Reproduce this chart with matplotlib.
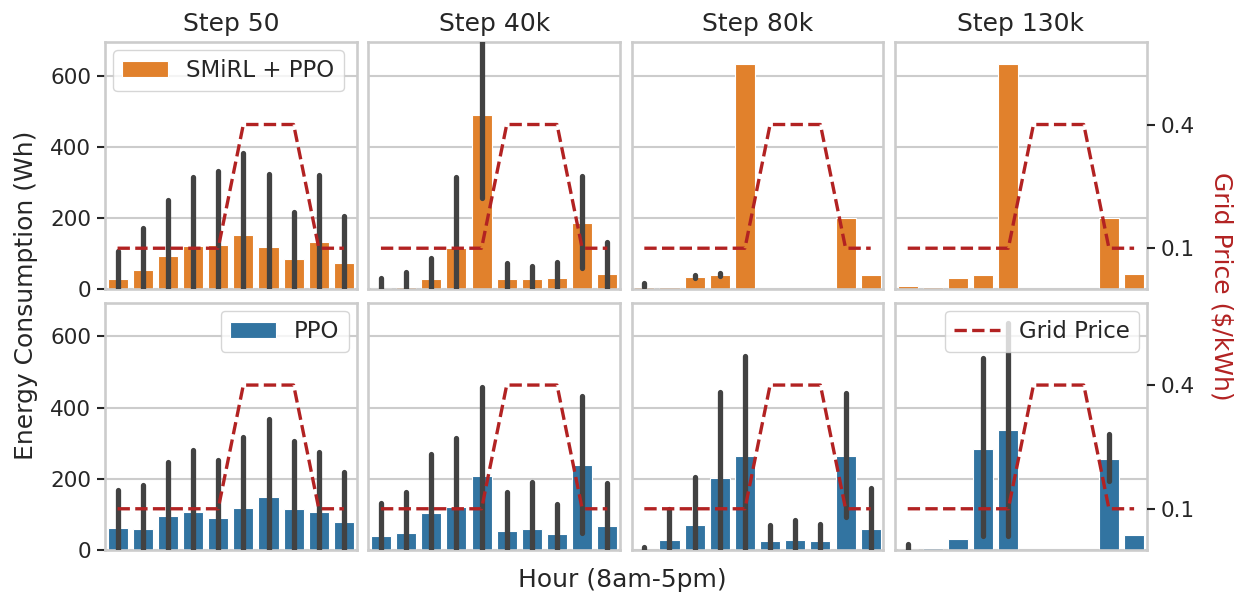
import matplotlib.pyplot as plt
import numpy as np

# ---- data ----
steps = ["Step 50", "Step 40k", "Step 80k", "Step 130k"]
hours = np.arange(10)  # 8am .. 5pm
grid_price = [0.1, 0.1, 0.1, 0.1, 0.1, 0.4, 0.4, 0.4, 0.1, 0.1]

# SMiRL + PPO: mean, ci low, ci high per step
smirl_mean = [
    [28, 54, 94, 122, 126, 152, 119, 85, 134, 73],
    [3, 8, 30, 117, 491, 29, 29, 32, 187, 43],
    [8, 6, 34, 41, 634, 0, 0, 0, 200, 42],
    [11, 7, 33, 40, 634, 0, 0, 0, 200, 43],
]
smirl_lo = [
    [0, 0, 0, 0, 0, 0, 0, 0, 0, 0],
    [0, 0, 0, 0, 258, 0, 0, 0, 61, 0],
    [7, 6, 33, 38, 634, 0, 0, 0, 200, 42],
    [11, 7, 33, 40, 634, 0, 0, 0, 200, 43],
]
smirl_hi = [
    [108, 173, 250, 316, 333, 384, 323, 218, 322, 206],
    [33, 50, 89, 315, 730, 74, 65, 78, 319, 133],
    [18, 6, 42, 47, 634, 0, 0, 0, 200, 42],
    [11, 7, 33, 40, 634, 0, 0, 0, 200, 43],
]

# PPO
ppo_mean = [
    [61, 59, 96, 108, 89, 119, 148, 115, 107, 80],
    [40, 49, 103, 121, 208, 53, 59, 46, 239, 68],
    [1, 27, 70, 202, 263, 25, 27, 24, 263, 59],
    [4, 5, 31, 284, 338, 0, 0, 0, 257, 42],
]
ppo_lo = [
    [0, 0, 0, 0, 0, 0, 0, 0, 0, 0],
    [0, 0, 0, 0, 0, 0, 0, 0, 49, 0],
    [0, 0, 0, 0, 0, 0, 0, 0, 94, 0],
    [0, 5, 31, 40, 40, 0, 0, 0, 195, 42],
]
ppo_hi = [
    [169, 182, 248, 280, 253, 317, 368, 306, 276, 219],
    [131, 163, 269, 316, 457, 163, 190, 130, 432, 188],
    [9, 116, 204, 443, 545, 71, 84, 73, 440, 174],
    [18, 5, 31, 539, 638, 0, 0, 0, 327, 42],
]

ORANGE = "#e1812c"
BLUE = "#3274a1"
RED = "#b22222"
DARK = "#262626"
LIGHT = "#cccccc"

plt.rcParams.update({
    "font.family": "DejaVu Sans",
    "text.color": DARK,
    "axes.labelcolor": DARK,
    "xtick.color": DARK,
    "ytick.color": DARK,
})

TICK = 15.5
LEG = 16.5
LAB = 18

fig, axes = plt.subplots(2, 4, figsize=(12.41, 5.97), dpi=100, sharey=True)
fig.subplots_adjust(left=0.0846, right=0.924, top=0.9296, bottom=0.0787,
                    wspace=0.047, hspace=0.053)

rows = [(smirl_mean, smirl_lo, smirl_hi, ORANGE, "SMiRL + PPO"),
        (ppo_mean, ppo_lo, ppo_hi, BLUE, "PPO")]

legend_kw = dict(fontsize=LEG, framealpha=0.8, edgecolor=LIGHT,
                 handlelength=2.0, borderaxespad=0.35, borderpad=0.4)

for r, (mean, lo, hi, color, label) in enumerate(rows):
    for c in range(4):
        ax = axes[r, c]
        ax.set_axisbelow(True)
        ax.grid(axis="y", color=LIGHT, lw=1.5)
        ax.bar(hours, mean[c], width=0.8, color=color, edgecolor="white",
               linewidth=0.8, label=label)
        l = np.array(lo[c])
        h = np.array(hi[c])
        show = (h - l) > 0.5
        ax.vlines(hours[show], l[show], h[show], color="#424242", lw=3.8,
                  capstyle="round", zorder=3)
        ax.set_xlim(-0.5, 9.5)
        ax.set_ylim(0, 695)
        ax.set_xticks([])
        ax.set_yticks([0, 200, 400, 600])
        ax.tick_params(axis="y", labelsize=TICK, length=6, width=1.5,
                       color=DARK, pad=4)
        if c > 0:
            ax.tick_params(axis="y", length=0)
        for s in ax.spines.values():
            s.set_color(LIGHT)
            s.set_linewidth(1.9)
        if r == 0:
            ax.set_title(steps[c], fontsize=LAB, pad=8)

        tw = ax.twinx()
        tw.plot(hours, grid_price, ls="--", color=RED, lw=2.4,
                label="Grid Price")
        tw.set_ylim(0, 0.6)
        tw.grid(False)
        for s in tw.spines.values():
            s.set_visible(False)
        if c == 3:
            tw.set_yticks([0.1, 0.4])
            tw.tick_params(axis="y", labelsize=TICK, length=6, width=1.5,
                           color=DARK, pad=4)
        else:
            tw.set_yticks([])
        if r == 1 and c == 3:
            tw.legend(loc="upper right", **legend_kw)

        if r == 0 and c == 0:
            ax.legend(loc="upper left", **legend_kw)
        if r == 1 and c == 0:
            ax.legend(loc="upper right", **legend_kw)

fig.text(0.5016, 0.028, "Hour (8am-5pm)", ha="center", va="center",
         fontsize=LAB)
fig.text(0.021, 0.505, "Energy Consumption (Wh)", ha="center", va="center",
         rotation=90, fontsize=LAB)
fig.text(0.984, 0.52, r"Grid Price (\$/kWh)", ha="center", va="center",
         rotation=270, fontsize=LAB, color=RED)

fig.savefig("out.png", dpi=100)
